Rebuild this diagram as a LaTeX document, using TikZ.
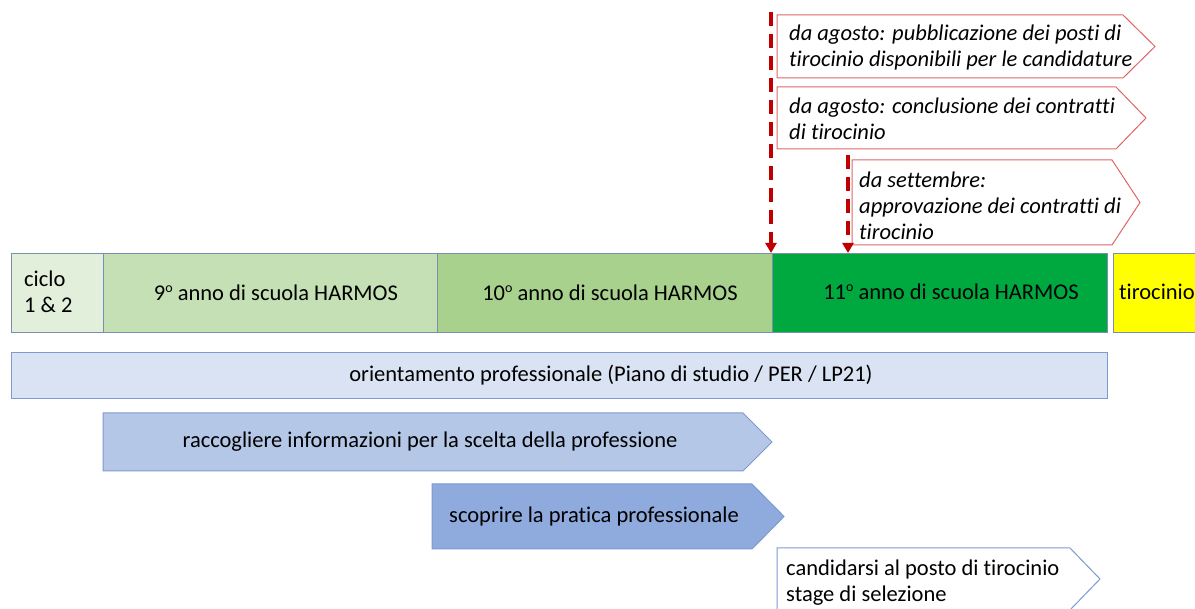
\documentclass[tikz,border=0pt]{standalone}
\usepackage{fontspec}
\setmainfont{Carlito}[Ligatures=NoCommon]
\usetikzlibrary{arrows.meta}
\definecolor{cA}{HTML}{E2EFDA}
\definecolor{cB}{HTML}{C5E0B4}
\definecolor{cC}{HTML}{A9D18E}
\definecolor{cD}{HTML}{00A93F}
\definecolor{cE}{HTML}{FFFF00}
\definecolor{rowborder}{HTML}{7A8FB0}
\definecolor{orfill}{HTML}{DAE3F3}
\definecolor{blueborder}{HTML}{7F9AD0}
\definecolor{raccfill}{HTML}{B4C7E7}
\definecolor{scopfill}{HTML}{8FAADC}
\definecolor{redbox}{HTML}{E06666}
\definecolor{redline}{HTML}{C00000}
\newcommand{\sz}{\fontsize{22.5}{26}\selectfont}
\newcommand{\ordo}{\raisebox{0.75ex}{\fontsize{14}{14}\selectfont o}}
\tikzset{
  rowbox/.style={draw=rowborder, line width=1pt, anchor=north west, inner sep=0pt},
  txt/.style={inner sep=0pt, font=\sz, text=black},
  itxt/.style={inner sep=0pt, font=\sz\itshape, align=left, anchor=north west},
  redshape/.style={draw=redbox, line width=1pt, fill=white},
  blueshape/.style={draw=blueborder, line width=1pt},
  reddash/.style={draw=redline, line width=3.2pt, dash pattern=on 14pt off 8pt, -{Triangle[width=11pt,length=10pt]}}
}
\begin{document}
\begin{tikzpicture}[x=1pt,y=-1pt]
\useasboundingbox (0,0) rectangle (1195,609);
\begin{scope}
\clip (0,0) rectangle (1195,609);
% top row
\node[rowbox, fill=cA, minimum width=92pt, minimum height=79pt] (ciclo) at (11,253) {};
\node[txt, anchor=north west, align=left] (ciclot) at (24,271) {ciclo\\1 \& 2};
\node[rowbox, fill=cB, minimum width=334pt, minimum height=79pt] (nove) at (103,253) {};
\node[txt] (novet) at (276,292.5) {9\ordo{} anno di scuola HARMOS};
\node[rowbox, fill=cC, minimum width=335pt, minimum height=79pt] (dieci) at (437,253) {};
\node[txt] (diecit) at (610,292.5) {10\ordo{} anno di scuola HARMOS};
\node[rowbox, fill=cD, minimum width=335pt, minimum height=79pt] (undici) at (772,253) {};
\node[txt] (undicit) at (951,291.5) {11\ordo{} anno di scuola HARMOS};
\node[rowbox, fill=cE, minimum width=100pt, minimum height=79pt] (tiro) at (1113,253) {};
\node[txt, anchor=base west] (tirot) at (1119,300) {tirocinio};
% orientamento
\node[draw=blueborder, line width=1pt, fill=orfill, anchor=north west, minimum width=1096pt, minimum height=46pt, inner sep=0pt] (orient) at (11,352) {};
\node[txt] (orientt) at (611,375) {orientamento professionale (Piano di studio / PER / LP21)};
% raccogliere
\draw[blueshape, fill=raccfill] (103,413) -- (743,413) -- (772,442) -- (743,471) -- (103,471) -- cycle;
\node[txt] (racc) at (430,442) {raccogliere informazioni per la scelta della professione};
% scoprire
\draw[blueshape, fill=scopfill] (432,484) -- (752,484) -- (784,516.5) -- (752,549) -- (432,549) -- cycle;
\node[txt] (scop) at (594,516.5) {scoprire la pratica professionale};
% candidarsi
\draw[blueshape, fill=white] (777,548) -- (1070,548) -- (1100,579) -- (1070,610) -- (777,610) -- cycle;
\node[txt, anchor=north west, align=left] (cand) at (786,560) {candidarsi al posto di tirocinio\\stage di selezione};
% red boxes
\draw[redshape] (777,15) -- (1123,15) -- (1155,46.5) -- (1123,78) -- (777,78) -- cycle;
\node[itxt] (r1) at (789,25) {da agosto: pubblicazione dei posti di\\tirocinio disponibili per le candidature};
\draw[redshape] (777,87) -- (1116,87) -- (1146,118) -- (1116,149) -- (777,149) -- cycle;
\node[itxt] (r2) at (789,98) {da agosto: conclusione dei contratti\\di tirocinio};
\draw[redshape] (852,160) -- (1112,160) -- (1140,202.5) -- (1112,245) -- (852,245) -- cycle;
\node[itxt] (r3) at (859,172) {da settembre:\\approvazione dei contratti di\\tirocinio};
% dashed arrows
\coordinate (s1) at (771,12);
\coordinate (s2) at (848,155);
\draw[reddash] (s1) -- (s1 |- undici.north);
\draw[reddash] (s2) -- (s2 |- undici.north);
\end{scope}
\end{tikzpicture}
\end{document}
